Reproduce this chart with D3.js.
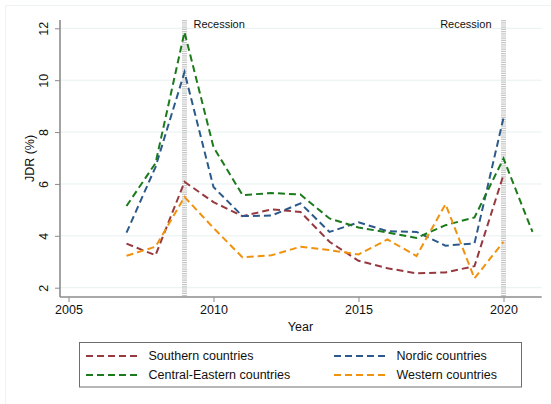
<!DOCTYPE html>
<html>
<head>
<meta charset="utf-8">
<script src="https://cdn.jsdelivr.net/npm/d3@7"></script>
<style>
  html, body { margin: 0; padding: 0; background: #fff; }
  svg { display: block; font-family: "Liberation Sans", Arial, Helvetica, sans-serif; }
</style>
</head>
<body>
<svg id="chart" width="551" height="404"></svg>
<script>
// Job destruction rate by country group, 2007–2021
const years = [2007, 2008, 2009, 2010, 2011, 2012, 2013, 2014, 2015, 2016, 2017, 2018, 2019, 2020, 2021];
const southern = [3.7, 3.25, 6.08, 5.3, 4.76, 5.02, 4.92, 3.77, 3.04, 2.75, 2.55, 2.59, 2.83, 6.35, null];
const nordic   = [4.12, 6.65, 10.31, 5.88, 4.76, 4.78, 5.25, 4.15, 4.52, 4.18, 4.15, 3.62, 3.71, 8.55, null];
const centralEastern = [5.15, 6.8, 11.85, 7.42, 5.57, 5.65, 5.59, 4.67, 4.32, 4.13, 3.92, 4.41, 4.71, 6.98, 4.15];
const western  = [3.23, 3.58, 5.5, 4.3, 3.17, 3.25, 3.58, 3.45, 3.28, 3.86, 3.22, 5.22, 2.36, 3.77, null];

const seriesNames  = ["Southern countries", "Nordic countries", "Central-Eastern countries", "Western countries"];
const seriesColors = ["#973a40", "#2b5a8a", "#1b7b1b", "#f0920e"];
const seriesValues = [southern, nordic, centralEastern, western];

const xTicks = [2005, 2010, 2015, 2020];
const yTicks = [2, 4, 6, 8, 10, 12];
const recessionYears = [2009, 2020];
const recessionLabel = "Recession";

const svg = d3.select("#chart");

// outer graph region outline
svg.append("rect")
  .attr("x", 5.5).attr("y", 5.5).attr("width", 600).attr("height", 450)
  .attr("fill", "none").attr("stroke", "#eef3f3").attr("stroke-width", 1);

const plot = { left: 60, right: 541.7, top: 20, bottom: 297 };

const x = d3.scaleLinear().domain([2005, 2020]).range([68.5, 503.5]);
const y = d3.scaleLinear().domain([2, 12]).range([287.7, 28.3]);

// horizontal grid lines
svg.append("g").selectAll("line").data(yTicks).join("line")
  .attr("x1", plot.left).attr("x2", plot.right)
  .attr("y1", d => y(d)).attr("y2", d => y(d))
  .attr("stroke", "#e8f0f1").attr("stroke-width", 1);

// recession markers
const rec = svg.append("g");
rec.selectAll("line").data(recessionYears).join("line")
  .attr("x1", d => x(d)).attr("x2", d => x(d))
  .attr("y1", plot.top).attr("y2", plot.bottom)
  .attr("stroke", "#c6c6c6").attr("stroke-width", 5)
  .attr("stroke-dasharray", "1.2,1");
rec.selectAll("text").data(recessionYears).join("text")
  .attr("x", (d, i) => i === 0 ? x(d) + 9 : x(d) - 12)
  .attr("y", 24).attr("dy", "0.35em")
  .attr("text-anchor", (d, i) => i === 0 ? "start" : "end")
  .attr("font-size", 11)
  .attr("fill", "#111")
  .text(recessionLabel);

// axes
const yAxis = d3.axisLeft(y).tickValues(yTicks).tickSize(5).tickSizeOuter(0).tickFormat(d3.format("d"));
const gy = svg.append("g").attr("transform", `translate(${plot.left},0)`).call(yAxis);
gy.select(".domain").attr("d", `M0,${plot.top}V${plot.bottom}`);
gy.selectAll(".tick text")
  .attr("transform", "translate(-16.5,0) rotate(-90)")
  .attr("x", 0).attr("y", 0)
  .attr("text-anchor", "middle")
  .attr("dy", "0.35em");

const xAxis = d3.axisBottom(x).tickValues(xTicks).tickSize(5).tickSizeOuter(0).tickFormat(d3.format("d"));
const gx = svg.append("g").attr("transform", `translate(0,${plot.bottom})`).call(xAxis);
gx.select(".domain").attr("d", `M${plot.left},0H${plot.right}`);
gx.selectAll(".tick text").attr("y", 8).attr("dy", "0.71em");

[gx, gy].forEach(g => {
  g.select(".domain").attr("stroke", "#8c8c8c").attr("stroke-width", 1.6);
  g.selectAll(".tick line").attr("stroke", "#8c8c8c").attr("stroke-width", 1);
  g.selectAll(".tick text").attr("font-size", 12.5).attr("fill", "#111")
    .attr("font-family", "\"Liberation Sans\", Arial, Helvetica, sans-serif");
});

// axis titles
svg.append("text")
  .attr("x", 300.5).attr("y", 326.5).attr("dy", "0.35em")
  .attr("text-anchor", "middle").attr("font-size", 12.5).attr("fill", "#111")
  .text("Year");
svg.append("text")
  .attr("transform", "translate(29.5,158.5) rotate(-90)")
  .attr("dy", "0.35em")
  .attr("text-anchor", "middle").attr("font-size", 12.5).attr("fill", "#111")
  .text("JDR (%)");

// series lines
const line = d3.line()
  .defined(d => d.v != null)
  .x(d => x(d.year))
  .y(d => y(d.v));

const lines = svg.append("g");
seriesValues.forEach((vals, i) => {
  lines.append("path")
    .datum(years.map((yr, k) => ({ year: yr, v: vals[k] })))
    .attr("d", line)
    .attr("fill", "none")
    .attr("stroke", seriesColors[i])
    .attr("stroke-width", 2)
    .attr("stroke-dasharray", "7,4");
});

// legend
const legend = svg.append("g");
legend.append("rect")
  .attr("x", 79.5).attr("y", 342.5).attr("width", 442).attr("height", 44.5)
  .attr("fill", "#fff").attr("stroke", "#6e6e6e").attr("stroke-width", 1);
const legendPos = [
  { lx: 86, ty: 356 }, { lx: 334, ty: 356 },
  { lx: 86, ty: 375 }, { lx: 334, ty: 375 }
];
seriesNames.forEach((name, i) => {
  const p = legendPos[i];
  legend.append("line")
    .attr("x1", p.lx).attr("x2", p.lx + 51)
    .attr("y1", p.ty).attr("y2", p.ty)
    .attr("stroke", seriesColors[i]).attr("stroke-width", 2)
    .attr("stroke-dasharray", "7,4");
  legend.append("text")
    .attr("x", p.lx + 62.5).attr("y", p.ty).attr("dy", "0.35em")
    .attr("font-size", 12.5).attr("fill", "#111")
    .text(name);
});
</script>
</body>
</html>
